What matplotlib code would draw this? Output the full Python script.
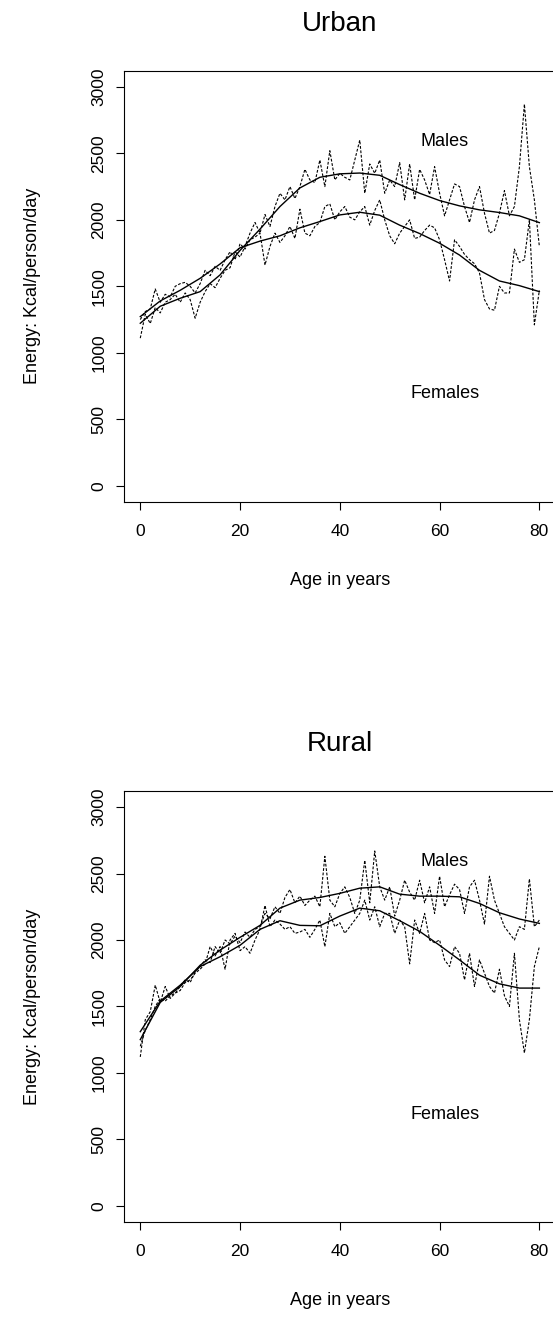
import numpy as np
import matplotlib
matplotlib.use("Agg")
import matplotlib.pyplot as plt

plt.rcParams["font.family"] = ["Liberation Sans", "DejaVu Sans"]

ages = list(range(0, 81))
smooth_ages = list(range(0, 81, 4))

# yearly mean energy intake, kcal/person/day
urban_male = [1110, 1290, 1220, 1340, 1300, 1380, 1400, 1440, 1380, 1450,
              1400, 1260, 1380, 1460, 1520, 1490, 1560, 1620, 1640, 1760,
              1720, 1800, 1900, 1980, 1900, 2040, 1950, 2100, 2200, 2150,
              2250, 2160, 2250, 2380, 2300, 2280, 2450, 2250, 2520, 2300,
              2350, 2320, 2300, 2450, 2600, 2200, 2420, 2350, 2450, 2200,
              2300, 2250, 2430, 2150, 2420, 2150, 2380, 2300, 2190, 2400,
              2200, 2030, 2150, 2270, 2250, 2100, 1980, 2150, 2250, 2050,
              1900, 1920, 2050, 2220, 2030, 2100, 2400, 2870, 2400, 2150,
              1800]
urban_female = [1250, 1310, 1330, 1480, 1380, 1440, 1420, 1500, 1520, 1530,
                1500, 1450, 1520, 1620, 1580, 1650, 1620, 1700, 1760, 1700,
                1820, 1780, 1850, 1870, 1900, 1660, 1800, 1900, 1830, 1880,
                1950, 1860, 2080, 1900, 1880, 1950, 1980, 2100, 2120, 2000,
                2060, 2100, 2020, 2000, 2060, 2100, 1960, 2070, 2150, 2000,
                1880, 1820, 1900, 1950, 2000, 1860, 1870, 1920, 1960, 1940,
                1850, 1700, 1540, 1850, 1800, 1740, 1700, 1670, 1600, 1400,
                1330, 1320, 1500, 1450, 1450, 1780, 1680, 1700, 2000, 1210,
                1470]
rural_male = [1200, 1320, 1400, 1500, 1560, 1540, 1580, 1600, 1650, 1700,
              1680, 1760, 1800, 1850, 1830, 1950, 1900, 2000, 1970, 2030,
              1980, 2060, 2020, 2080, 2100, 2200, 2160, 2250, 2200, 2320,
              2380, 2280, 2330, 2260, 2300, 2330, 2250, 2630, 2300, 2250,
              2350, 2400, 2320, 2200, 2300, 2600, 2280, 2670, 2400, 2300,
              2400, 2180, 2300, 2450, 2360, 2300, 2450, 2280, 2400, 2200,
              2480, 2250, 2340, 2420, 2380, 2200, 2400, 2450, 2300, 2120,
              2480, 2300, 2200, 2100, 2050, 2000, 2100, 2080, 2460, 2100,
              2150]
rural_female = [1120, 1400, 1460, 1660, 1530, 1650, 1560, 1600, 1620, 1680,
                1700, 1750, 1780, 1820, 1950, 1880, 1950, 1780, 2000, 2050,
                1920, 1950, 1900, 2000, 2080, 2260, 2100, 2150, 2120, 2080,
                2100, 2050, 2060, 2080, 2020, 2080, 2150, 1950, 2200, 2100,
                2130, 2050, 2100, 2150, 2200, 2300, 2150, 2250, 2100, 2200,
                2200, 2050, 2150, 2100, 1820, 2150, 2050, 2200, 2000, 1980,
                2000, 1850, 1800, 1950, 1900, 1700, 1900, 1650, 1850, 1750,
                1650, 1600, 1780, 1580, 1500, 1900, 1400, 1150, 1400, 1800,
                1950]

# smoothed trends, every 4 years
urban_male_fit = [1222, 1350, 1410, 1460, 1586, 1770, 1930, 2100, 2240, 2320,
                  2346, 2352, 2335, 2265, 2200, 2145, 2105, 2075, 2055, 2030,
                  1979]
urban_female_fit = [1272, 1390, 1470, 1560, 1668, 1790, 1840, 1880, 1940, 1987,
                    2037, 2057, 2035, 1960, 1897, 1824, 1735, 1620, 1540, 1505,
                    1460]
rural_male_fit = [1250, 1530, 1650, 1810, 1924, 2020, 2110, 2240, 2300, 2320,
                  2351, 2390, 2400, 2345, 2330, 2330, 2325, 2275, 2205, 2158,
                  2125]
rural_female_fit = [1310, 1540, 1660, 1800, 1874, 1960, 2080, 2145, 2110, 2107,
                    2180, 2240, 2220, 2145, 2065, 1960, 1850, 1735, 1670, 1638,
                    1638]

panels = [
    ("Urban", urban_male, urban_female, urban_male_fit, urban_female_fit),
    ("Rural", rural_male, rural_female, rural_male_fit, rural_female_fit),
]

fig = plt.figure(figsize=(5.53, 13.41), dpi=100)
boxes = [[0.2248, 0.6259, 0.7794, 0.3212], [0.2248, 0.0890, 0.7794, 0.3210]]

for box, (name, male, female, male_fit, female_fit) in zip(boxes, panels):
    ax = fig.add_axes(box)
    ax.plot(ages, male, color="black", lw=0.8, linestyle=(0, (2.5, 1.5)))
    ax.plot(ages, female, color="black", lw=0.8, linestyle=(0, (2.5, 1.5)))
    ax.plot(smooth_ages, male_fit, color="black", lw=1.0)
    ax.plot(smooth_ages, female_fit, color="black", lw=1.0)
    ax.text(61, 2590, "Males", ha="center", va="center", fontsize=13)
    ax.text(61, 690, "Females", ha="center", va="center", fontsize=13)
    ax.set_xlim(-3.2, 83.2)
    ax.set_ylim(-120, 3120)
    ax.set_xticks([0, 20, 40, 60, 80])
    ax.set_yticks(range(0, 3001, 500))
    ax.set_yticklabels([str(v) for v in range(0, 3001, 500)], rotation=90,
                       va="center")
    ax.tick_params(direction="out", length=6, width=0.8, labelsize=12.5)
    ax.tick_params(axis="x", pad=10)
    ax.tick_params(axis="y", pad=7)
    for s in ax.spines.values():
        s.set_linewidth(0.8)
    ax.set_xlabel("Age in years", fontsize=13, labelpad=24)
    ax.set_ylabel("Energy: Kcal/person/day", fontsize=13, labelpad=36)
    ax.text(0.5, 1.093, name, transform=ax.transAxes, ha="center",
            va="baseline", fontsize=20)

fig.savefig("out.png", dpi=100)
